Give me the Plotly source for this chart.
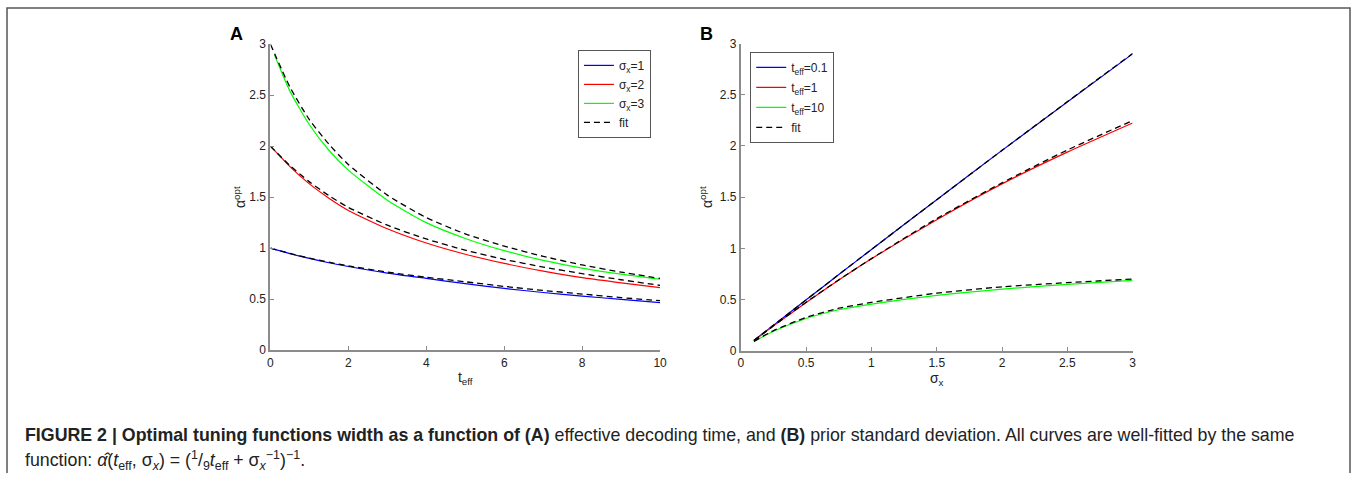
import plotly.graph_objects as go

# ---------------- data ----------------
# Panel A: alpha_opt vs t_eff
t_eff = [0, 0.5, 1, 1.5, 2, 3, 4, 5, 6, 7, 8, 9, 10]
t_eff_green = [0.1, 0.5, 1, 1.5, 2, 3, 4, 5, 6, 7, 8, 9, 10]
a_sig1 = [1.0, 0.946, 0.899, 0.857, 0.82, 0.755, 0.703, 0.652, 0.605, 0.565, 0.53, 0.497, 0.466]
a_sig2 = [2.0, 1.80, 1.63, 1.49, 1.37, 1.19, 1.05, 0.94, 0.85, 0.775, 0.71, 0.66, 0.612]
a_sig3 = [2.90, 2.54, 2.21, 1.96, 1.765, 1.47, 1.25, 1.095, 0.975, 0.88, 0.805, 0.745, 0.695]
fit_sig1 = [1.0, 0.948, 0.902, 0.862, 0.826, 0.765, 0.715, 0.67, 0.625, 0.585, 0.55, 0.515, 0.485]
fit_sig2 = [2.0, 1.81, 1.65, 1.515, 1.40, 1.225, 1.09, 0.98, 0.89, 0.815, 0.75, 0.69, 0.635]
fit_sig3 = [3.0, 2.58, 2.26, 2.02, 1.82, 1.52, 1.30, 1.14, 1.02, 0.92, 0.835, 0.765, 0.703]
labels_A = ["σ<sub>x</sub>=1", "σ<sub>x</sub>=2", "σ<sub>x</sub>=3", "fit"]

# Panel B: alpha_opt vs sigma_x
sigma_x = [0.1, 0.25, 0.5, 0.75, 1, 1.5, 2, 2.5, 3]
a_t01 = [0.1, 0.25, 0.497, 0.744, 0.989, 1.475, 1.957, 2.43, 2.90]
a_t1 = [0.1, 0.243, 0.47, 0.69, 0.898, 1.28, 1.63, 1.94, 2.225]
a_t10 = [0.09, 0.19, 0.315, 0.40, 0.455, 0.54, 0.602, 0.648, 0.687]
fit_t01 = [0.1, 0.25, 0.497, 0.744, 0.989, 1.475, 1.957, 2.432, 2.903]
fit_t1 = [0.099, 0.244, 0.474, 0.692, 0.9, 1.29, 1.64, 1.96, 2.248]
fit_t10 = [0.09, 0.197, 0.325, 0.415, 0.472, 0.562, 0.624, 0.665, 0.70]
labels_B = ["t<sub>eff</sub>=0.1", "t<sub>eff</sub>=1", "t<sub>eff</sub>=10", "fit"]

ticks_A_x = [0, 2, 4, 6, 8, 10]
ticks_B_x = [0, 0.5, 1, 1.5, 2, 2.5, 3]
ticks_y = [0, 0.5, 1, 1.5, 2, 2.5, 3]

# ---------------- figure ----------------
W, H = 1357, 480
# small compensation for the capture's padding/scaling
SX, AX = 0.991, 4.0
SY, AY = 0.9756, 5.9
def px(x):
    return min(max((x - AX) / SX, 0), W) / W
def py(y):
    return 1 - min(max((y - AY) / SY, 0), H) / H

BLUE, RED, GREEN = "#0000ff", "#ff0000", "#00ff00"
fig = go.Figure()

def add(x, y, color, name, xa, ya, legend, show, group, dash=None, width=1.2):
    fig.add_trace(go.Scatter(
        x=x, y=y, mode="lines", name=name, xaxis=xa, yaxis=ya,
        line=dict(color=color, width=width, dash=dash, shape="spline", smoothing=0.6),
        legend=legend, showlegend=show, legendgroup=group))

DASH = "6px,4px"
# Panel A
add(t_eff, a_sig1, BLUE, labels_A[0], "x", "y", "legend", True, "a1")
add(t_eff, a_sig2, RED, labels_A[1], "x", "y", "legend", True, "a2")
add(t_eff_green, a_sig3, GREEN, labels_A[2], "x", "y", "legend", True, "a3")
add(t_eff, fit_sig1, "black", labels_A[3], "x", "y", "legend", True, "a4", dash=DASH, width=1.3)
add(t_eff, fit_sig2, "black", labels_A[3], "x", "y", "legend", False, "a4", dash=DASH, width=1.3)
add(t_eff, fit_sig3, "black", labels_A[3], "x", "y", "legend", False, "a4", dash=DASH, width=1.3)

# Panel B
add(sigma_x, a_t01, BLUE, labels_B[0], "x2", "y2", "legend2", True, "b1")
add(sigma_x, a_t1, RED, labels_B[1], "x2", "y2", "legend2", True, "b2")
add(sigma_x, a_t10, GREEN, labels_B[2], "x2", "y2", "legend2", True, "b3")
add(sigma_x, fit_t01, "black", labels_B[3], "x2", "y2", "legend2", True, "b4", dash=DASH, width=1.3)
add(sigma_x, fit_t1, "black", labels_B[3], "x2", "y2", "legend2", False, "b4", dash=DASH, width=1.3)
add(sigma_x, fit_t10, "black", labels_B[3], "x2", "y2", "legend2", False, "b4", dash=DASH, width=1.3)

FONT = "Liberation Sans, Arial, sans-serif"
tickfont = dict(family=FONT, size=12, color="#222222")
axcommon = dict(showline=True, linecolor="#8c8c8c", linewidth=2, ticks="inside", ticklen=4,
                tickcolor="#8c8c8c", tickwidth=1, showgrid=False, zeroline=False,
                tickfont=tickfont, mirror=False)
titlefont = dict(family=FONT, size=14, color="#222222")

legfont = dict(family=FONT, size=12, color="#222222")
fig.update_layout(
    width=W, height=H,
    margin=dict(l=0, r=0, t=0, b=0),
    paper_bgcolor="white", plot_bgcolor="white",
    xaxis=dict(domain=[px(271), px(660)], range=[0, 10], tickvals=ticks_A_x, anchor="y",
               title=dict(text="t<sub>eff</sub>", font=titlefont, standoff=4), **axcommon),
    yaxis=dict(domain=[py(350.7), py(43.3)], range=[0, 3], tickvals=ticks_y, anchor="x",
               title=dict(text="α<sup>opt</sup>", font=titlefont, standoff=0), **axcommon),
    xaxis2=dict(domain=[px(740.7), px(1131.7)], range=[0, 3], tickvals=ticks_B_x, anchor="y2",
                title=dict(text="σ<sub>x</sub>", font=titlefont, standoff=4), **axcommon),
    yaxis2=dict(domain=[py(351.3), py(42.7)], range=[0, 3], tickvals=ticks_y, anchor="x2",
                title=dict(text="α<sup>opt</sup>", font=titlefont, standoff=4), **axcommon),
    legend=dict(x=px(578), y=py(49), xanchor="left", yanchor="top", bgcolor="white",
                bordercolor="#555555", borderwidth=1, font=legfont, tracegroupgap=0,
                itemwidth=30),
    legend2=dict(x=px(750), y=py(51), xanchor="left", yanchor="top", bgcolor="white",
                 bordercolor="#555555", borderwidth=1, font=legfont, tracegroupgap=1,
                 itemwidth=30),
    showlegend=True,
)

# outer frame (open at the bottom)
fig.add_shape(type="path", xref="paper", yref="paper",
              path=f"M {px(8)} {py(490)} L {px(8)} {py(7)} L {px(1353)} {py(7)} L {px(1353)} {py(490)}",
              line=dict(color="#555555", width=1.5))

# panel letters
for lab, x in (("A", 237), ("B", 706)):
    fig.add_annotation(text=f"<b>{lab}</b>", x=px(x), y=py(33), xref="paper", yref="paper",
                       showarrow=False, xanchor="center", yanchor="middle",
                       font=dict(family=FONT, size=18, color="black"))

capfont = dict(family=FONT, size=17.8, color="#222222")
cap1 = ("<b>FIGURE 2 | Optimal tuning functions width as a function of (A)</b> effective decoding time, and "
        "<b>(B)</b> prior standard deviation. All curves are well-fitted by the same")
cap2 = ("function: <i>α̂</i>(<i>t</i><sub>eff</sub>, σ<sub><i>x</i></sub>) = "
        "(<sup>1</sup>/<sub>9</sub><i>t</i><sub>eff</sub> + σ<sub><i>x</i></sub><sup>−1</sup>)<sup>−1</sup>.")
fig.add_annotation(text=cap1, x=px(24), y=py(436), xref="paper", yref="paper", showarrow=False,
                   xanchor="left", yanchor="middle", font=capfont, align="left")
fig.add_annotation(text=cap2, x=px(24), y=py(462), xref="paper", yref="paper", showarrow=False,
                   xanchor="left", yanchor="middle", font=capfont, align="left")

fig.write_html(
    "out.html",
    config={"displayModeBar": False},
    post_script=(
        "document.body.style.margin='0';"
        "document.body.style.overflow='hidden';"
    ),
)
